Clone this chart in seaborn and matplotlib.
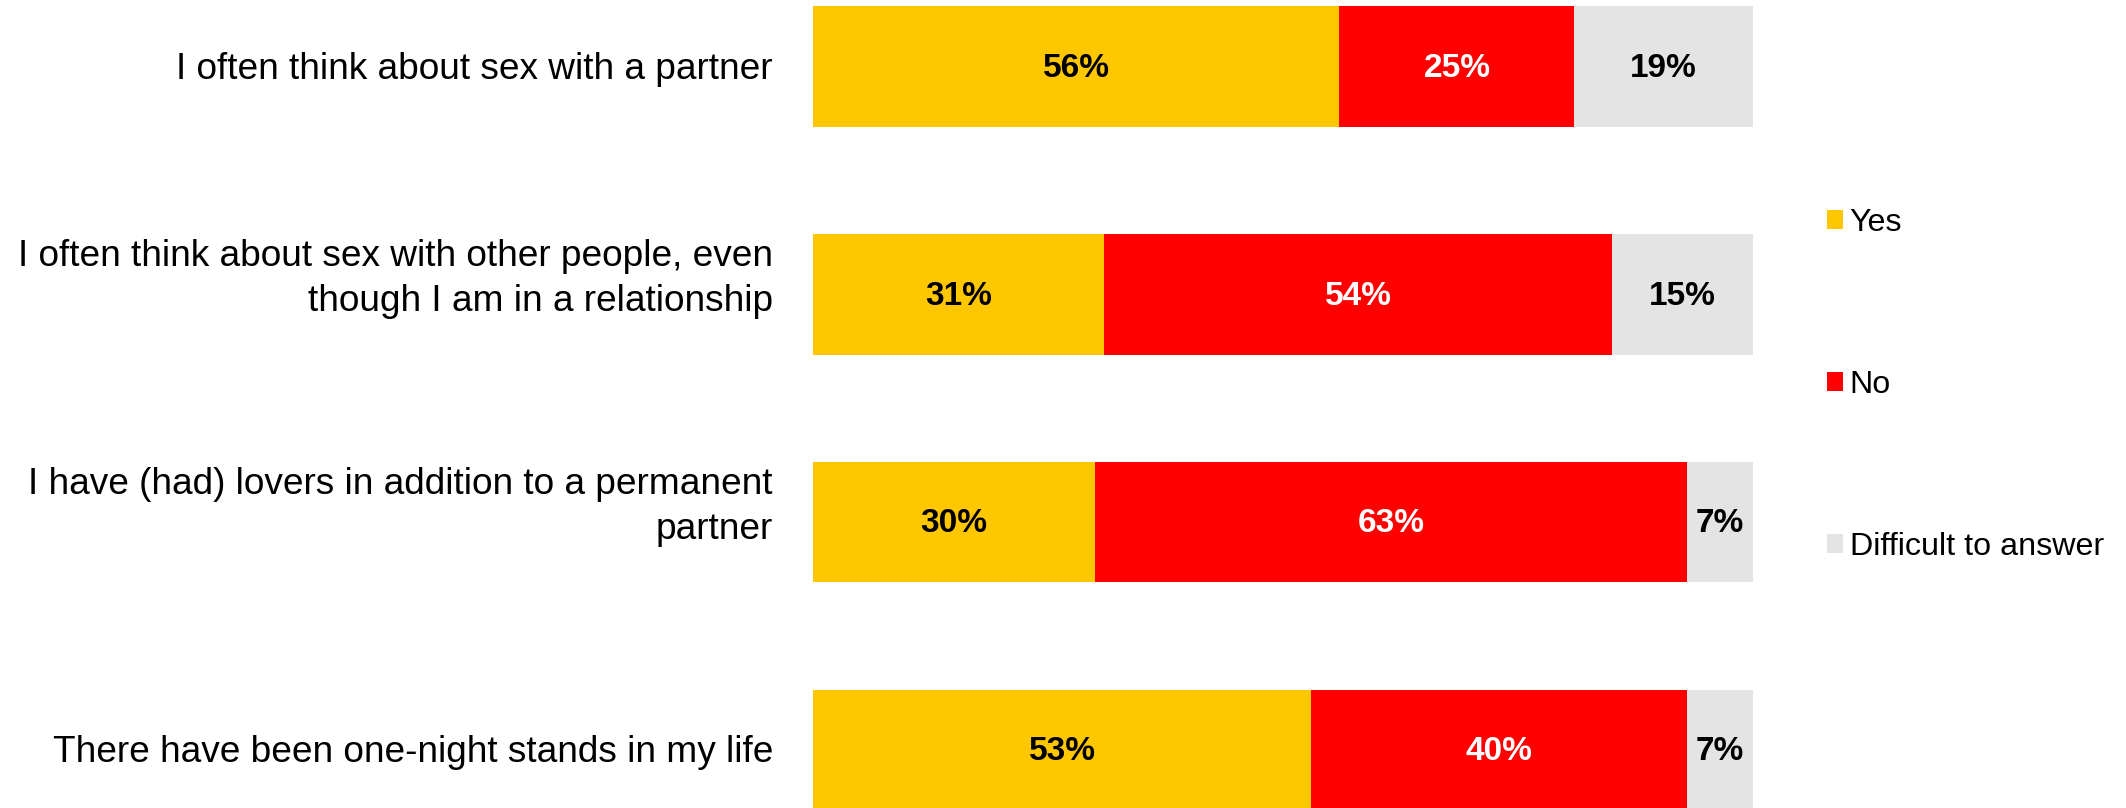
import matplotlib
matplotlib.use("Agg")
import matplotlib.pyplot as plt
from matplotlib.patches import Patch
import matplotlib.transforms as mtransforms
import seaborn as sns
import pandas as pd
import numpy as np

categories = [
    "I often think about sex with a partner",
    "I often think about sex with other people, even\nthough I am in a relationship",
    "I have (had) lovers in addition to a permanent\npartner",
    "There have been one-night stands in my life",
]
yes = [56, 31, 30, 53]
no = [25, 54, 63, 40]
difficult = [19, 15, 7, 7]
series_names = ["Yes", "No", "Difficult to answer"]
colors = ["#FFC700", "#FF0000", "#E4E4E4"]
label_colors = ["black", "white", "black"]

sns.set_theme(style="white")
plt.rcParams["font.family"] = ["Liberation Sans", "DejaVu Sans"]

W, H = 2126, 808
fig = plt.figure(figsize=(W / 100, H / 100), dpi=100)
ax_left, ax_right = 813, 1753
ax = fig.add_axes([ax_left / W, 0, (ax_right - ax_left) / W, 1])

df = pd.DataFrame({"cat": categories, "Yes": yes, "No": no, "Difficult": difficult})
df["c1"] = df["Yes"]
df["c2"] = df["Yes"] + df["No"]
df["c3"] = df["Yes"] + df["No"] + df["Difficult"]

bw = 0.53
for col, color in zip(["c3", "c2", "c1"], colors[::-1]):
    sns.barplot(data=df, y="cat", x=col, orient="h", color=color, width=bw,
                saturation=1, ax=ax, order=categories, linewidth=0)

vals = [yes, no, difficult]
for i in range(len(categories)):
    start = 0
    for s in range(3):
        v = vals[s][i]
        ax.text(start + v / 2, i + 0.008, f"{v}%", ha="center", va="center",
                fontsize=24, fontweight="bold", color=label_colors[s])
        start += v

ax.set_xlim(0, 100)
ax.set_ylim(3.255, -0.292)
ax.set_xlabel("")
ax.set_ylabel("")
ax.set_xticks([])
ax.set_yticks(range(len(categories)))
ax.set_yticklabels([])
ax.tick_params(axis="y", length=0)

# category labels, right-aligned left of bars
trans = mtransforms.blended_transform_factory(ax.transAxes, ax.transData)
for i, cat in enumerate(categories):
    nlines = cat.count("\n") + 1
    yoff = -0.066 if nlines > 1 else 0.012
    ax.text(-40 / (ax_right - ax_left), i + yoff, cat, transform=trans,
            ha="right", va="center", fontsize=26.65, color="black",
            linespacing=1.36, multialignment="right")

for sp in ax.spines.values():
    sp.set_visible(False)

handles = [Patch(facecolor=c, edgecolor="none") for c in colors]
fig.legend(handles, series_names, loc="center left",
           bbox_to_anchor=(1827 / W, 1 - 385 / H), frameon=False,
           fontsize=23.2, handlelength=0.5, handleheight=0.5,
           handletextpad=0.2, labelspacing=4.1, borderpad=0, borderaxespad=0,
           labelcolor="black")

fig.savefig("out.png", dpi=100)
